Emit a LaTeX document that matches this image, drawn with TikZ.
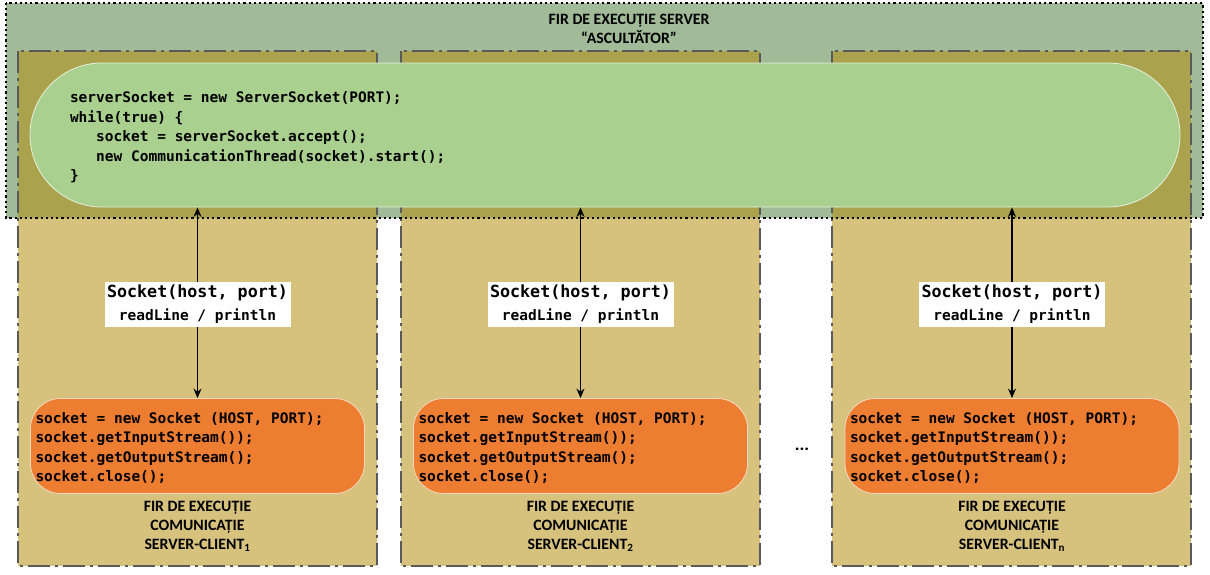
\documentclass[tikz,border=0pt]{standalone}
\usepackage{fontspec}
\setmainfont{Carlito}
\newfontfamily\codefont{DejaVu Sans Mono}
\usetikzlibrary{arrows.meta}

\definecolor{srvbg}{RGB}{161,186,152}
\definecolor{overlap}{RGB}{171,162,78}
\definecolor{threadbg}{RGB}{214,194,125}
\definecolor{pillgreen}{RGB}{169,208,142}
\definecolor{orng}{RGB}{237,125,49}
\definecolor{framegray}{RGB}{90,90,90}

% monospaced code; spaces as wide as the glyphs
\newcommand\codesetup[2]{\codefont\bfseries\fontsize{#1}{#2}\selectfont}
\newcommand\fullspaces{\spaceskip=0.602em\xspaceskip=0.602em\relax}

\tikzset{
  threadframe/.style={draw=framegray, line width=1.6pt,
    dash pattern=on 22pt off 5pt on 3pt off 5pt},
  listenframe/.style={draw=black, line width=2.2pt, dash pattern=on 2.2pt off 3pt},
  listener/.style={font=\codesetup{14.5}{19.5}, fill=pillgreen, draw=white!70!pillgreen,
    line width=0.8pt, rounded corners=72pt, minimum height=144pt, text width=1070pt,
    inner xsep=40pt, inner ysep=0pt, align=left},
  client/.style={font=\codesetup{14.5}{19.3}, fill=orng, draw=white!70!orng,
    line width=0.8pt, rounded corners=30pt, minimum height=95pt, text width=324pt,
    inner xsep=5pt, inner ysep=0pt, align=left},
  caption/.style={font=\bfseries\fontsize{15.8}{19}\selectfont, align=center, inner sep=0pt},
  link/.style={line width=1.4pt,
    {Stealth[length=9.5pt,width=8pt]}-{Stealth[length=9.5pt,width=8pt]}},
  proto/.style={font=\codesetup{14.5}{23}, fill=white,
    minimum width=186pt, minimum height=45pt, inner sep=0pt, align=center}
}

\begin{document}
\begin{tikzpicture}[x=1pt,y=-1pt]
\useasboundingbox (0,0) rectangle (1210,574);

% listener thread area and the three communication threads
\fill[srvbg] (6,3) rectangle (1203,218);
\foreach \l/\r in {18/377, 401/760, 832/1191}{
  \fill[threadbg] (\l,51) rectangle (\r,566);
  \fill[overlap] (\l,51) rectangle (\r,218);
}
\foreach \l/\r in {18/377, 401/760, 832/1191}{
  \draw[threadframe] (\l,51) rectangle (\r,566);
}
\draw[listenframe] (6,3) rectangle (1203,218);

\node[caption] (srvtitle) at (629,13.9) [anchor=north]
  {FIR DE EXECUȚIE SERVER\\“ASCULTĂTOR”};

% listener loop
\node[listener] (srv) at (605,135) {\fullspaces
\rule{0pt}{16pt}serverSocket = new ServerSocket(PORT);\\
while(true) \{\\
\phantom{xxx}socket = serverSocket.accept();\\
\phantom{xxx}new CommunicationThread(socket).start();\\
\}};

% client side code blocks
\foreach \i/\x/\s in {1/197.5/1, 2/580.5/2, 3/1012/n}{
  \node[client] (cl\i) at (\x,446) {\fullspaces
\rule{0pt}{15pt}socket = new Socket (HOST, PORT);\\
socket.getInputStream());\\
socket.getOutputStream();\\
socket.close();};
  \draw[link] (cl\i.north) -- (cl\i.north |- srv.south);
  \node[proto] (sock\i) at (\x,304.5)
    {{\fontsize{16.7}{23}\selectfont Socket(host, port)}\\readLine / println};
  \node[caption, anchor=north] (cap\i) at (\x,500.9)
    {FIR DE EXECUȚIE\\COMUNICAȚIE\\SERVER-CLIENT\textsubscript{\s}};
}

\node[font=\bfseries\fontsize{18}{20}\selectfont, anchor=base, inner sep=0pt] (dots) at (802,450) {...};
\end{tikzpicture}
\end{document}
